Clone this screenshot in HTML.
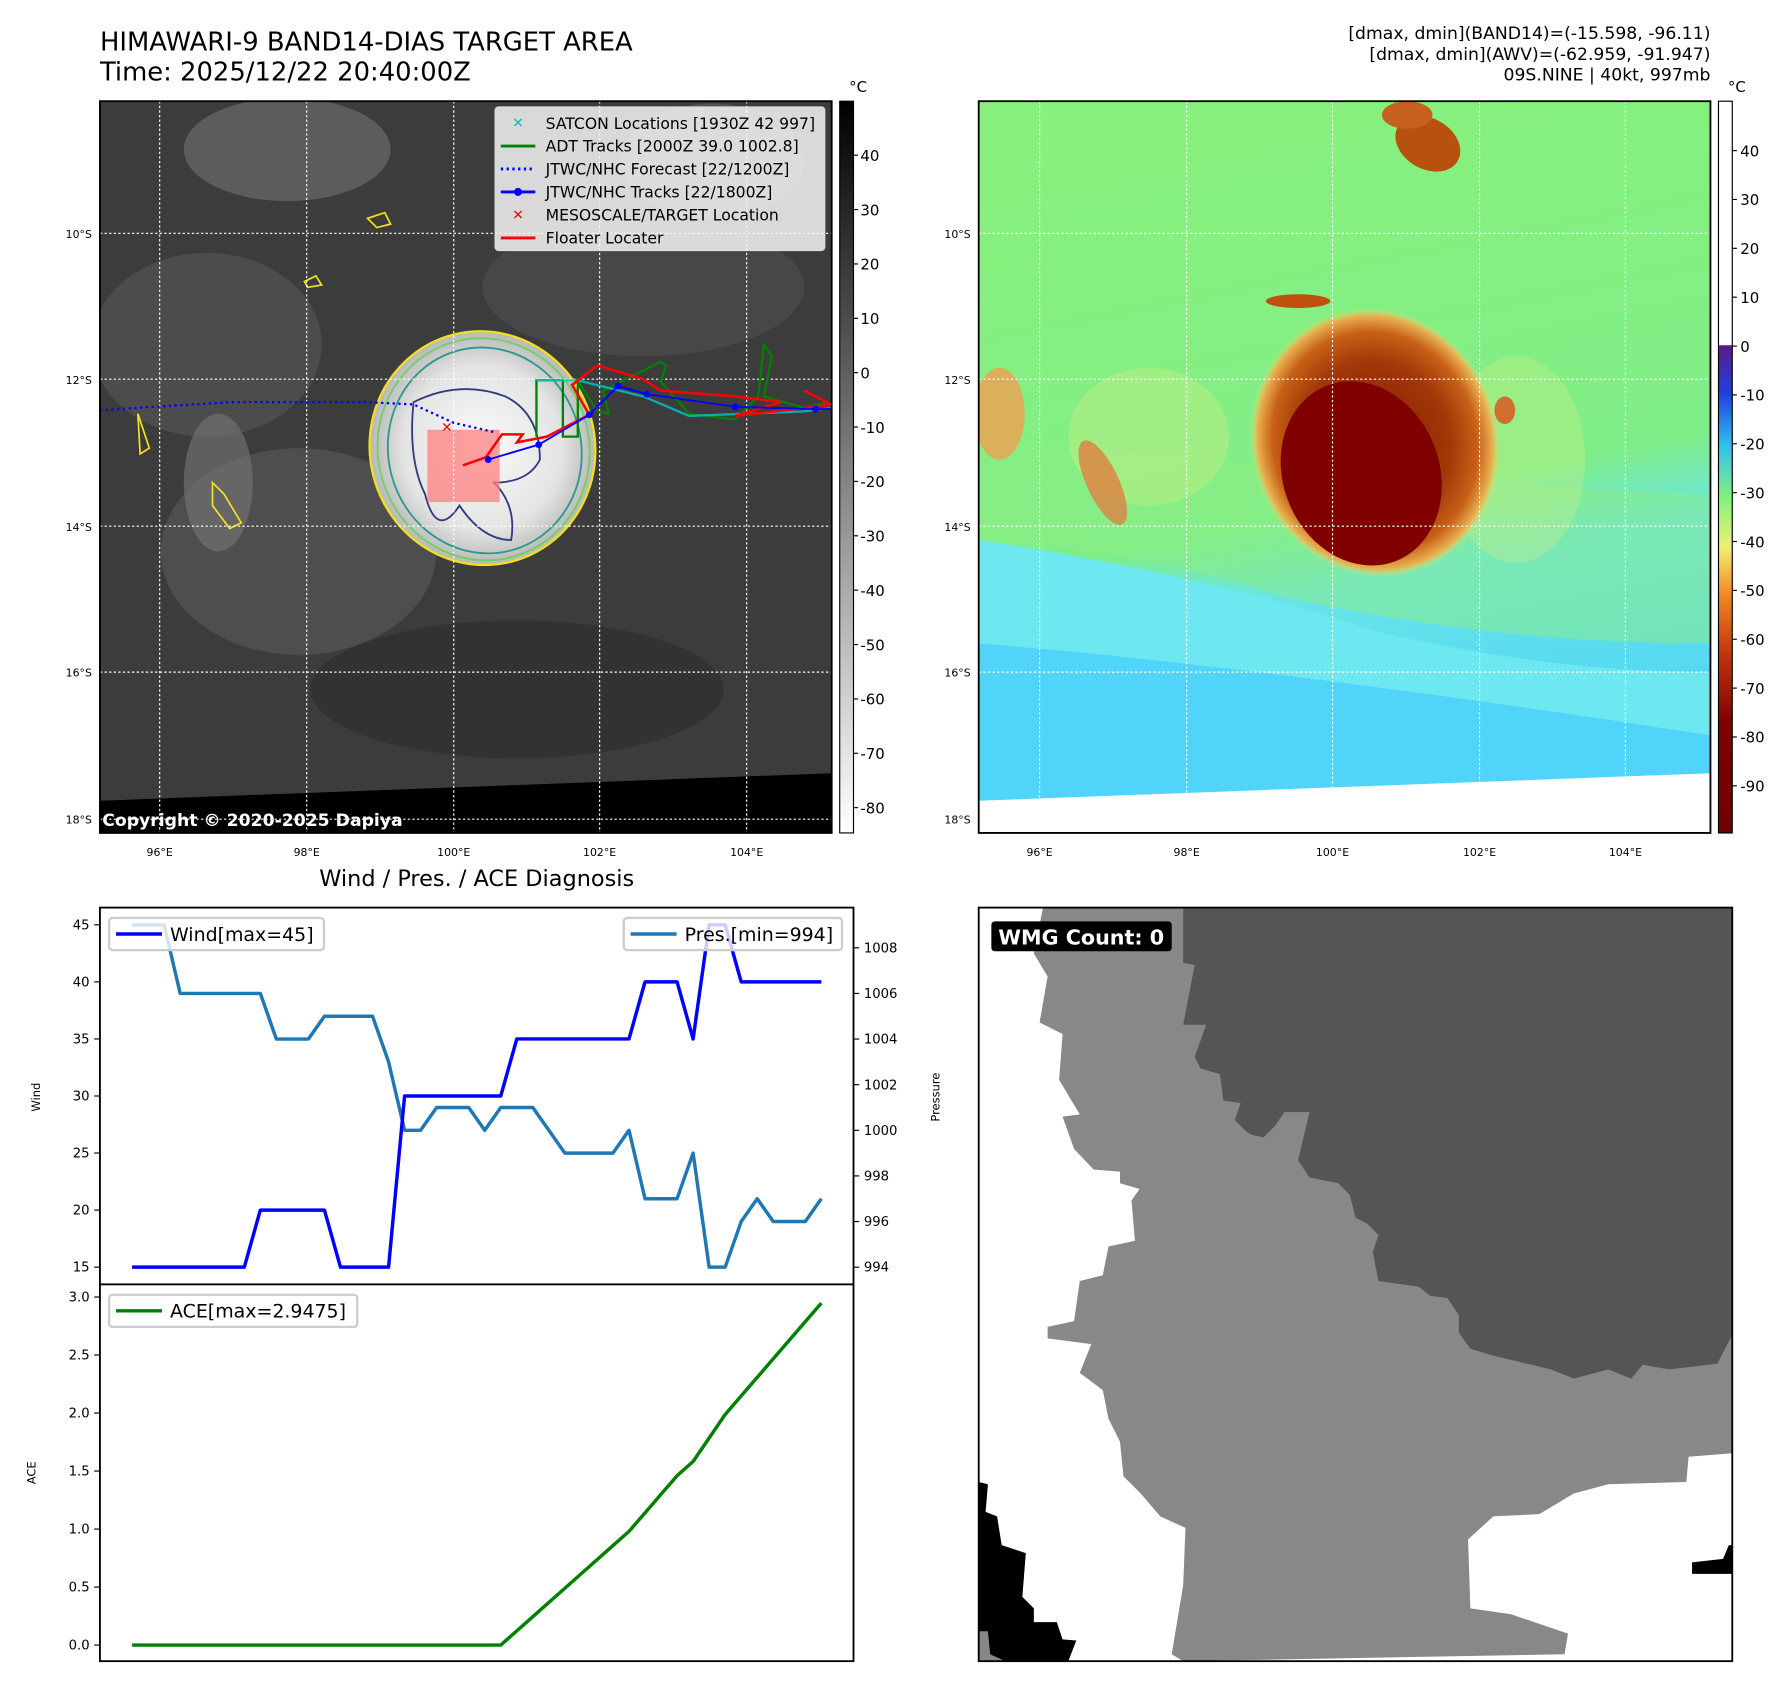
<!DOCTYPE html>
<html><head><meta charset="utf-8"><style>
html,body{margin:0;padding:0;background:#fff;}
svg{display:block;font-family:"DejaVu Sans","Liberation Sans",sans-serif;}
</style></head><body>
<svg id="root" width="1792" height="1690" viewBox="0 0 1560 1471" xmlns="http://www.w3.org/2000/svg">
<defs>
<linearGradient id="gbar" x1="0" y1="0" x2="0" y2="1"><stop offset="0" stop-color="#000"/><stop offset="1" stop-color="#fff"/></linearGradient>
<linearGradient id="cbar" x1="0" y1="0" x2="0" y2="1">
<stop offset="0" stop-color="#fff"/><stop offset="0.333" stop-color="#fff"/><stop offset="0.334" stop-color="#5a1a8a"/><stop offset="0.40" stop-color="#2040e0"/><stop offset="0.47" stop-color="#30c0f0"/><stop offset="0.54" stop-color="#80f080"/><stop offset="0.61" stop-color="#f0f070"/><stop offset="0.68" stop-color="#f08020"/><stop offset="0.76" stop-color="#c03010"/><stop offset="0.85" stop-color="#800000"/><stop offset="1" stop-color="#700000"/></linearGradient>
<radialGradient id="storm1" cx="0.5" cy="0.5" r="0.5"><stop offset="0" stop-color="#fafafa"/><stop offset="0.7" stop-color="#e4e4e4"/><stop offset="1" stop-color="#b8b8b8"/></radialGradient>
<linearGradient id="bg2" x1="0.4" y1="0" x2="0.6" y2="1"><stop offset="0" stop-color="#88f07c"/><stop offset="0.55" stop-color="#80ee88"/><stop offset="0.66" stop-color="#68e4e8"/><stop offset="1" stop-color="#48d0f8"/></linearGradient>
<radialGradient id="storm2" cx="0.5" cy="0.5" r="0.5"><stop offset="0" stop-color="#8a1a00"/><stop offset="0.6" stop-color="#a03808"/><stop offset="0.82" stop-color="#c86018"/><stop offset="0.94" stop-color="#e8b050"/><stop offset="1" stop-color="#e8e070" stop-opacity="0"/></radialGradient>
<clipPath id="c1"><rect x="87" y="88" width="637" height="637"/></clipPath>
<clipPath id="c2"><rect x="852" y="88" width="637" height="637"/></clipPath>
</defs>

<text x="87" y="44" font-size="22.5">HIMAWARI-9 BAND14-DIAS TARGET AREA</text>
<text x="87" y="70" font-size="22.5">Time: 2025/12/22 20:40:00Z</text>
<g font-size="15" text-anchor="end">
<text x="1489" y="34">[dmax, dmin](BAND14)=(-15.598, -96.11)</text>
<text x="1489" y="52">[dmax, dmin](AWV)=(-62.959, -91.947)</text>
<text x="1489" y="70">09S.NINE | 40kt, 997mb</text>
</g>

<g clip-path="url(#c1)">
<rect x="87" y="88" width="637" height="637" fill="#3c3c3c"/>
<ellipse cx="250" cy="130" rx="90" ry="45" fill="#6a6a6a" opacity="0.7"/>
<ellipse cx="180" cy="300" rx="100" ry="80" fill="#505050" opacity="0.8"/>
<ellipse cx="560" cy="250" rx="140" ry="60" fill="#4a4a4a" opacity="0.8"/>
<ellipse cx="260" cy="480" rx="120" ry="90" fill="#555" opacity="0.7"/>
<ellipse cx="620" cy="140" rx="80" ry="50" fill="#5a5a5a" opacity="0.7"/>
<ellipse cx="450" cy="600" rx="180" ry="60" fill="#303030" opacity="0.8"/>
<ellipse cx="190" cy="420" rx="30" ry="60" fill="#777" opacity="0.6"/>
<ellipse cx="420" cy="390" rx="98" ry="102" transform="rotate(-15 420 390)" fill="url(#storm1)"/>
<ellipse cx="420" cy="390" rx="98" ry="102" transform="rotate(-15 420 390)" fill="none" stroke="#f0e020" stroke-width="2"/>
<ellipse cx="421" cy="391" rx="92" ry="97" transform="rotate(-15 421 391)" fill="none" stroke="#70d060" stroke-width="1.6"/>
<ellipse cx="422" cy="392" rx="84" ry="90" transform="rotate(-15 422 392)" fill="none" stroke="#2a9a8a" stroke-width="1.6"/>
<path d="M360 350 Q400 330 440 345 Q470 360 470 400 Q460 420 430 420 Q450 440 445 470 Q420 470 400 440 Q380 470 370 430 Q355 400 360 350Z" fill="none" stroke="#323a80" stroke-width="1.6"/>
<rect x="372" y="374" width="63" height="63" fill="#ff8080" opacity="0.75"/>
<path d="M185 420 l10 10 l15 25 l-10 5 l-15 -20Z M120 360 l10 30 l-8 5Z M320 190 l15 -5 l5 10 l-12 3Z M265 245 l10 -5 l5 8 l-12 2Z" fill="none" stroke="#f0e020" stroke-width="1.5"/>
<path d="M87 697 L724 673 L724 725 L87 725Z" fill="#000"/>
<g stroke="#fff" stroke-width="1" stroke-dasharray="2,2" fill="none">
<path d="M139 88V725M267 88V725M395 88V725M522 88V725M650 88V725M87 203H724M87 330H724M87 458H724M87 585H724M87 713H724"/>
</g>
<polyline points="87,357 200,350 320,350 360,352 395,368 430,376" fill="none" stroke="#0000ff" stroke-width="2" stroke-dasharray="2,3"/>
<polyline points="467,380 467,331 490,331 490,380 503,380 503,331 520,358 530,360 525,340 575,315 580,318 575,332 600,360 640,365 660,345 665,300 672,310 665,345 700,355 720,350" fill="none" stroke="#008000" stroke-width="2"/>
<polyline points="467,331 503,331 560,345 600,362 700,358 724,355" fill="none" stroke="#00c8c8" stroke-width="2" opacity="0.8"/>
<polyline points="403,405 423,398 437,378 455,378 450,385 476,380 513,361 498,335 520,318 560,330 575,340 640,345 680,350 640,362 700,355 724,352 700,340" fill="none" stroke="#ff0000" stroke-width="2.2"/>
<polyline points="425,400 469,387 513,361 538,336 563,343 640,354 710,356 724,356" fill="none" stroke="#0000ff" stroke-width="1.6"/>
<g fill="#0000ff"><circle cx="425" cy="400" r="3"/><circle cx="469" cy="387" r="3"/><circle cx="513" cy="361" r="3"/><circle cx="538" cy="336" r="3"/><circle cx="563" cy="343" r="3"/><circle cx="640" cy="354" r="3"/><circle cx="710" cy="356" r="3"/></g>
<text x="389" y="376" font-size="12" fill="#ff0000" font-weight="bold" text-anchor="middle">✕</text>
<text x="89" y="719" font-size="15" font-weight="bold" fill="#fff">Copyright © 2020-2025 Dapiya</text>
</g>
<rect x="87" y="88" width="637" height="637" fill="none" stroke="#000" stroke-width="1.6"/>
<g font-size="13.6">
<rect x="431" y="93" width="287" height="125" rx="3" fill="#f4f4f4" fill-opacity="0.85" stroke="#ddd"/>
<text x="451" y="111" fill="#00bfbf" font-size="12" font-weight="bold" text-anchor="middle">✕</text><text x="475" y="112">SATCON Locations [1930Z 42 997]</text>
<line x1="436" y1="127" x2="466" y2="127" stroke="#008000" stroke-width="2.5"/><text x="475" y="132">ADT Tracks [2000Z 39.0 1002.8]</text>
<line x1="436" y1="147" x2="466" y2="147" stroke="#0000ff" stroke-width="2.5" stroke-dasharray="2,3"/><text x="475" y="152">JTWC/NHC Forecast [22/1200Z]</text>
<line x1="436" y1="167" x2="466" y2="167" stroke="#0000ff" stroke-width="2.5"/><circle cx="451" cy="167" r="3.5" fill="#0000ff"/><text x="475" y="172">JTWC/NHC Tracks [22/1800Z]</text>
<text x="451" y="191" fill="#ff0000" font-size="12" font-weight="bold" text-anchor="middle">✕</text><text x="475" y="192">MESOSCALE/TARGET Location</text>
<line x1="436" y1="207" x2="466" y2="207" stroke="#ff0000" stroke-width="2.5"/><text x="475" y="212">Floater Locater</text>
</g>
<g font-size="9.5">
<g text-anchor="middle"><text x="139" y="745">96°E</text><text x="267" y="745">98°E</text><text x="395" y="745">100°E</text><text x="522" y="745">102°E</text><text x="650" y="745">104°E</text></g>
<g text-anchor="end"><text x="80" y="207">10°S</text><text x="80" y="334">12°S</text><text x="80" y="462">14°S</text><text x="80" y="589">16°S</text><text x="80" y="717">18°S</text></g>
</g>
<g>
<rect x="731" y="88" width="12" height="637" fill="url(#gbar)" stroke="#000"/>
<text x="747" y="80" font-size="13" text-anchor="middle">°C</text>
<g font-size="13" id="cb1"></g>
</g>

<g clip-path="url(#c2)">
<rect x="852" y="88" width="637" height="637" fill="url(#bg2)"/>
<path d="M852 470 Q1000 480 1120 520 Q1300 560 1489 560 L1489 430 Q1200 420 852 380Z" fill="#8cee84" opacity="0.5"/>
<path d="M852 470 Q1050 500 1200 550 Q1350 585 1489 585 L1489 725 L852 725Z" fill="#6ee8f0"/>
<path d="M852 560 Q1100 580 1489 640 L1489 725 L852 725Z" fill="#50d4fa"/>
<path d="M852 697 L1489 673 L1489 725 L852 725Z" fill="#fff"/>
<ellipse cx="1000" cy="380" rx="70" ry="60" fill="#e8f080" opacity="0.3"/>
<ellipse cx="960" cy="420" rx="14" ry="40" transform="rotate(-25 960 420)" fill="#e08040" opacity="0.8"/>
<ellipse cx="870" cy="360" rx="22" ry="40" fill="#f0a050" opacity="0.8"/>
<ellipse cx="1320" cy="400" rx="60" ry="90" fill="#e8f080" opacity="0.25"/>
<ellipse cx="1243" cy="125" rx="30" ry="22" transform="rotate(30 1243 125)" fill="#b85010"/>
<ellipse cx="1225" cy="100" rx="22" ry="12" fill="#c86020"/>
<ellipse cx="1130" cy="262" rx="28" ry="6" fill="#c05010"/>
<ellipse cx="1197" cy="385" rx="108" ry="118" transform="rotate(-18 1197 385)" fill="url(#storm2)"/>
<ellipse cx="1185" cy="412" rx="68" ry="82" transform="rotate(-22 1185 412)" fill="#800000"/>
<ellipse cx="1310" cy="357" rx="9" ry="12" fill="#d07030"/>
<g stroke="#fff" stroke-width="1" stroke-dasharray="2,2" fill="none">
<path d="M905 88V725M1033 88V725M1160 88V725M1288 88V725M1415 88V725M852 203H1489M852 330H1489M852 458H1489M852 585H1489M852 713H1489"/>
</g>
</g>
<rect x="852" y="88" width="637" height="637" fill="none" stroke="#000" stroke-width="1.6"/>
<g font-size="9.5">
<g text-anchor="middle"><text x="905" y="745">96°E</text><text x="1033" y="745">98°E</text><text x="1160" y="745">100°E</text><text x="1288" y="745">102°E</text><text x="1415" y="745">104°E</text></g>
<g text-anchor="end"><text x="845" y="207">10°S</text><text x="845" y="334">12°S</text><text x="845" y="462">14°S</text><text x="845" y="589">16°S</text><text x="845" y="717">18°S</text></g>
</g>
<g>
<rect x="1496" y="88" width="12" height="637" fill="url(#cbar)" stroke="#000"/>
<text x="1512" y="80" font-size="13" text-anchor="middle">°C</text>
<g font-size="13" id="cb2"></g>
</g>

<text x="415" y="771" font-size="19.5" text-anchor="middle">Wind / Pres. / ACE Diagnosis</text>
<g id="chart"></g>

<g>
<rect x="852" y="790" width="656" height="656" fill="#fff"/>
<path fill="#888" d="M908 790 L1508 790 L1508 1265 L1470 1268 L1468 1290 L1400 1292 L1370 1300 L1340 1318 L1300 1320 L1278 1340 L1280 1400 L1315 1405 L1365 1422 L1362 1440 L1030 1446 L1020 1440 L1030 1380 L1032 1330 L1010 1320 L993 1300 L978 1285 L975 1255 L965 1235 L960 1210 L940 1195 L950 1170 L912 1165 L912 1155 L935 1150 L940 1115 L960 1110 L965 1085 L988 1080 L985 1045 L992 1035 L975 1030 L975 1020 L952 1018 L935 1000 L925 972 L940 970 L922 940 L925 900 L905 890 L912 850 L900 830 L908 790Z"/>
<path fill="#555" d="M1030 790 L1508 790 L1508 1162 L1495 1187 L1470 1190 L1453 1192 L1430 1188 L1420 1200 L1400 1192 L1370 1200 L1350 1192 L1300 1180 L1280 1174 L1270 1160 L1270 1145 L1260 1130 L1245 1128 L1235 1120 L1200 1115 L1195 1090 L1200 1075 L1190 1065 L1180 1060 L1175 1040 L1165 1030 L1140 1025 L1130 1010 L1140 968 L1118 968 L1110 980 L1100 990 L1090 988 L1085 985 L1075 975 L1080 960 L1065 958 L1062 935 L1045 930 L1040 920 L1050 892 L1030 892 L1040 840 L1030 838 L1030 790Z"/>
<path fill="#000" d="M852 1290 L860 1292 L858 1316 L868 1320 L872 1345 L893 1352 L890 1390 L900 1400 L900 1412 L920 1412 L925 1427 L937 1428 L930 1446 L852 1446Z"/>
<path fill="#888" d="M852 1420 L860 1420 L862 1440 L875 1446 L852 1446Z"/>
<path fill="#000" d="M1473 1360 L1500 1357 L1505 1345 L1508 1345 L1508 1370 L1473 1370Z"/>
<rect x="863" y="802" width="157" height="26" rx="3" fill="#000"/>
<text x="869" y="822" font-size="18" font-weight="bold" fill="#fff">WMG Count: 0</text>
<rect x="852" y="790" width="656" height="656" fill="none" stroke="#000" stroke-width="1.6"/>
</g>
</svg>
<script>
const steps = [0,1,2,3,4,5,6,7,8,9,10,11,12,13,14,15,16,17,18,19,20,21,22,23,24,25,26,27,28,29,30,31,32,33,34,35,36,37,38,39,40,41,42,43];
const windValues = [15,15,15,15,15,15,15,15,20,20,20,20,20,15,15,15,15,30,30,30,30,30,30,30,35,35,35,35,35,35,35,35,40,40,40,35,45,45,40,40,40,40,40,40];
const pressureValues = [1009,1009,1009,1006,1006,1006,1006,1006,1006,1004,1004,1004,1005,1005,1005,1005,1003,1000,1000,1001,1001,1001,1000,1001,1001,1001,1000,999,999,999,999,1000,997,997,997,999,994,994,996,997,996,996,996,997];
const aceValues = [0,0,0,0,0,0,0,0,0,0,0,0,0,0,0,0,0,0,0,0,0,0,0,0,0.1225,0.245,0.3675,0.49,0.6125,0.735,0.8575,0.98,1.14,1.30,1.46,1.5825,1.785,1.9875,2.1475,2.3075,2.4675,2.6275,2.7875,2.9475];
const windTicks = [15,20,25,30,35,40,45];
const pressureTicks = [994,996,998,1000,1002,1004,1006,1008];
const aceTicks = [0.0,0.5,1.0,1.5,2.0,2.5,3.0];
const irTicks = [40,30,20,10,0,-10,-20,-30,-40,-50,-60,-70,-80];
const awvTicks = [40,30,20,10,0,-10,-20,-30,-40,-50,-60,-70,-80,-90];

const NS = 'http://www.w3.org/2000/svg';
function mk(tag, attrs, parent){const e=document.createElementNS(NS,tag);for(const k in attrs)e.setAttribute(k,attrs[k]);parent.appendChild(e);return e;}
const x = i => 115 + i*(600/(steps.length-1));
const yW = v => 1103 - (v-15)*(298/30);
const yP = p => 1103 - (p-994)*(278/14);
const yA = a => 1432 - a*(303/3);
const yIR = t => 135 + (40-t)*(568/120);
const yAWV = t => 131 + (40-t)*(553/130);

const cb1 = document.getElementById('cb1');
irTicks.forEach(t=>{
  mk('line',{x1:743,x2:747,y1:yIR(t),y2:yIR(t),stroke:'#000'},cb1);
  const tx=mk('text',{x:749,y:yIR(t)+5},cb1); tx.textContent=t;
  
  
});
const cb2 = document.getElementById('cb2');
awvTicks.forEach(t=>{
  mk('line',{x1:1508,x2:1512,y1:yAWV(t),y2:yAWV(t),stroke:'#000'},cb2);
  const tx=mk('text',{x:1515,y:yAWV(t)+5},cb2); tx.textContent=t;
  
  
});

const g = document.getElementById('chart');
mk('rect',{x:87,y:790,width:656,height:328,fill:'#fff',stroke:'#000','stroke-width':1.6},g);
mk('rect',{x:87,y:1118,width:656,height:328,fill:'#fff',stroke:'#000','stroke-width':1.6},g);
windTicks.forEach(t=>{
  mk('line',{x1:82,x2:87,y1:yW(t),y2:yW(t),stroke:'#000'},g);
  const tx=mk('text',{x:78,y:yW(t)+4,'font-size':11.5,'text-anchor':'end'},g); tx.textContent=t;
  
  
});
pressureTicks.forEach(t=>{
  mk('line',{x1:743,x2:748,y1:yP(t),y2:yP(t),stroke:'#000'},g);
  const tx=mk('text',{x:752,y:yP(t)+4,'font-size':11.5},g); tx.textContent=t;
  
  
});
aceTicks.forEach(t=>{
  mk('line',{x1:82,x2:87,y1:yA(t),y2:yA(t),stroke:'#000'},g);
  const tx=mk('text',{x:78,y:yA(t)+4,'font-size':11.5,'text-anchor':'end'},g); tx.textContent=t.toFixed(1);
  
  
});
const wl=mk('text',{x:35,y:955,'font-size':10,'text-anchor':'middle',transform:'rotate(-90 35 955)'},g); wl.textContent='Wind';


const pl=mk('text',{x:818,y:955,'font-size':10,'text-anchor':'middle',transform:'rotate(-90 818 955)'},g); pl.textContent='Pressure';


const al=mk('text',{x:31,y:1282,'font-size':10,'text-anchor':'middle',transform:'rotate(-90 31 1282)'},g); al.textContent='ACE';



const pres=mk('polyline',{points:steps.map(i=>x(i)+','+yP(pressureValues[i])).join(' '),fill:'none',stroke:'#1f77b4','stroke-width':3,'stroke-linejoin':'round'},g);


const wind=mk('polyline',{points:steps.map(i=>x(i)+','+yW(windValues[i])).join(' '),fill:'none',stroke:'#0000ff','stroke-width':3,'stroke-linejoin':'round'},g);


const ace=mk('polyline',{points:steps.map(i=>x(i)+','+yA(aceValues[i])).join(' '),fill:'none',stroke:'#008000','stroke-width':3,'stroke-linejoin':'round'},g);



function legend(name,x0,y0,w,color,label){
  const lg=mk('g',{},g);
  
  
  mk('rect',{x:x0,y:y0,width:w,height:28,rx:3,fill:'#fff','fill-opacity':0.8,stroke:'#ccc','stroke-width':2},lg);
  mk('line',{x1:x0+6,x2:x0+46,y1:y0+14,y2:y0+14,stroke:color,'stroke-width':3},lg);
  const t=mk('text',{x:x0+53,y:y0+20,'font-size':16.5},lg); t.textContent=label;
}
legend('wind-legend',95,799,187,'#0000ff','Wind[max=45]');
legend('pressure-legend',543,799,190,'#1f77b4','Pres.[min=994]');
legend('ace-legend',95,1127,216,'#008000','ACE[max=2.9475]');
</script>
</body></html>
